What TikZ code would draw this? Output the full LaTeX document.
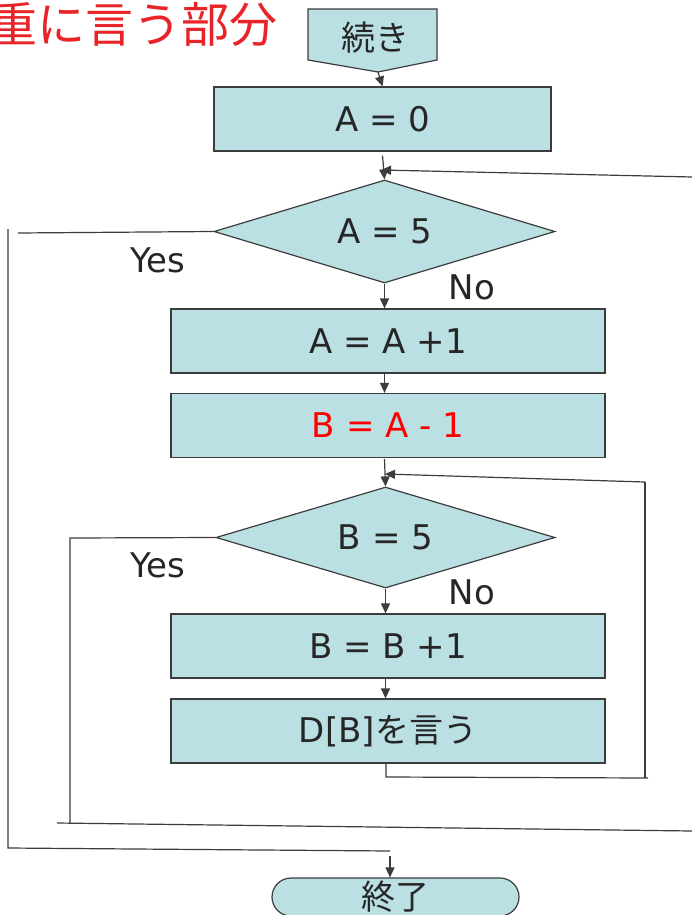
\documentclass[tikz,border=0pt]{standalone}
\usepackage{fontspec}
\setmainfont{DejaVu Sans}
\newfontfamily\jp{Noto Sans CJK JP}
\usetikzlibrary{shapes.geometric, arrows.meta}
\definecolor{boxfill}{RGB}{186,224,227}
\definecolor{linegray}{RGB}{60,60,60}
\definecolor{titlered}{RGB}{232,36,40}
\tikzset{
  proc/.style={draw=linegray, line width=1.2pt, fill=boxfill, minimum width=434pt, minimum height=64pt, inner sep=0pt, font=\fontsize{34}{38}\selectfont, text=black!85},
  test/.style={draw=linegray, line width=1.2pt, fill=boxfill, diamond, aspect=3.3, inner sep=0pt, minimum width=340pt, minimum height=102pt, font=\fontsize{34}{38}\selectfont, text=black!85},
  term/.style={draw=linegray, line width=1.2pt, fill=boxfill, rounded corners=19pt, minimum width=247pt, minimum height=38pt, inner sep=0pt, font=\fontsize{34}{38}\selectfont\jp, text=black!85},
  answer/.style={font=\fontsize{34}{38}\selectfont, text=black!85},
  flow/.style={draw=linegray, line width=1.2pt, -{Triangle[length=10pt,width=9pt]}},
  wire/.style={draw=linegray, line width=1.2pt},
}
\begin{document}
\begin{tikzpicture}[x=1pt, y=-1pt]
  \useasboundingbox (0,0) rectangle (692,915);
  % heading, cut at the left edge
  \node [anchor=east, text=titlered, font=\fontsize{48}{52}\selectfont\jp, inner sep=0pt] (title) at (278,24) {重に言う部分};
  % off-page connector
  \draw [linegray, line width=1.2pt, fill=boxfill] (308,9) -- (437,9) -- (437,60) -- (378,72) -- (308,60) -- cycle;
  \coordinate (tip) at (378,72);
  \node [font=\fontsize{34}{38}\selectfont\jp, text=black!85] (cont) at (375,38) {続き};
  % boxes
  \node [proc, minimum width=337pt] (azero) at (382.5,119) {A = 0};
  \node [test, minimum width=341pt, minimum height=103pt] (afive) at (384.5,231.5) {A = 5};
  \node [proc] (ainc) at (388,341) {A = A +1};
  \node [proc, text=red] (bset) at (388,425.5) {B = A - 1};
  \node [test, minimum width=339pt, minimum height=101pt] (bfive) at (385.5,537.5) {B = 5};
  \node [proc] (binc) at (388,646) {B = B +1};
  \node [proc] (say) at (388,731) {D[B]{\jp を言う}};
  \node [term] (done) at (395.5,897) {終了};
  % answers
  \node [answer] (ayes) at (158,260) {Yes};
  \node [answer] (ano) at (472,287) {No};
  \node [answer] (byes) at (158,565) {Yes};
  \node [answer] (bno) at (472,592) {No};
  % main line
  \path [flow] (tip) -- (azero.north);
  \path [flow] (azero.south) ++(0,4) -- (afive.north);
  \path [flow] (afive.south) -- (ainc.north -| afive.south);
  \path [flow] (ainc.south -| afive.south) -- (bset.north -| afive.south);
  \path [flow] (bset.south -| afive.south) ++(0,1) -- (bfive.north);
  \path [flow] (bfive.south) -- (binc.north -| bfive.south);
  \path [flow] (binc.south -| bfive.south) -- (say.north -| bfive.south);
  % inner loop back
  \coordinate (ib) at (386,777);
  \coordinate (ir) at (648,778);
  \coordinate (it) at (645,482);
  \path [wire] (say.south -| ib) -- (ib) -- (ir);
  \path [wire] (645,778) -- (it);
  \path [flow] (it) -- (385,474);
  % inner exit and outer loop back
  \coordinate (iyes) at (70,538);
  \coordinate (iend) at (70,823);
  \path [wire] (bfive.west) -- (iyes) -- (iend);
  \path [wire] (57,823) -- (692,831);
  \path [flow] (692,177) -- (381,170);
  % outer exit
  \coordinate (oyes) at (18,233);
  \coordinate (otop) at (8,229);
  \coordinate (obot) at (8,848);
  \coordinate (oend) at (390,851);
  \path [wire] (afive.west) -- (oyes);
  \path [wire] (otop) -- (obot) -- (oend);
  \path [flow] (390,856) -- (done.north -| oend);
\end{tikzpicture}
\end{document}
